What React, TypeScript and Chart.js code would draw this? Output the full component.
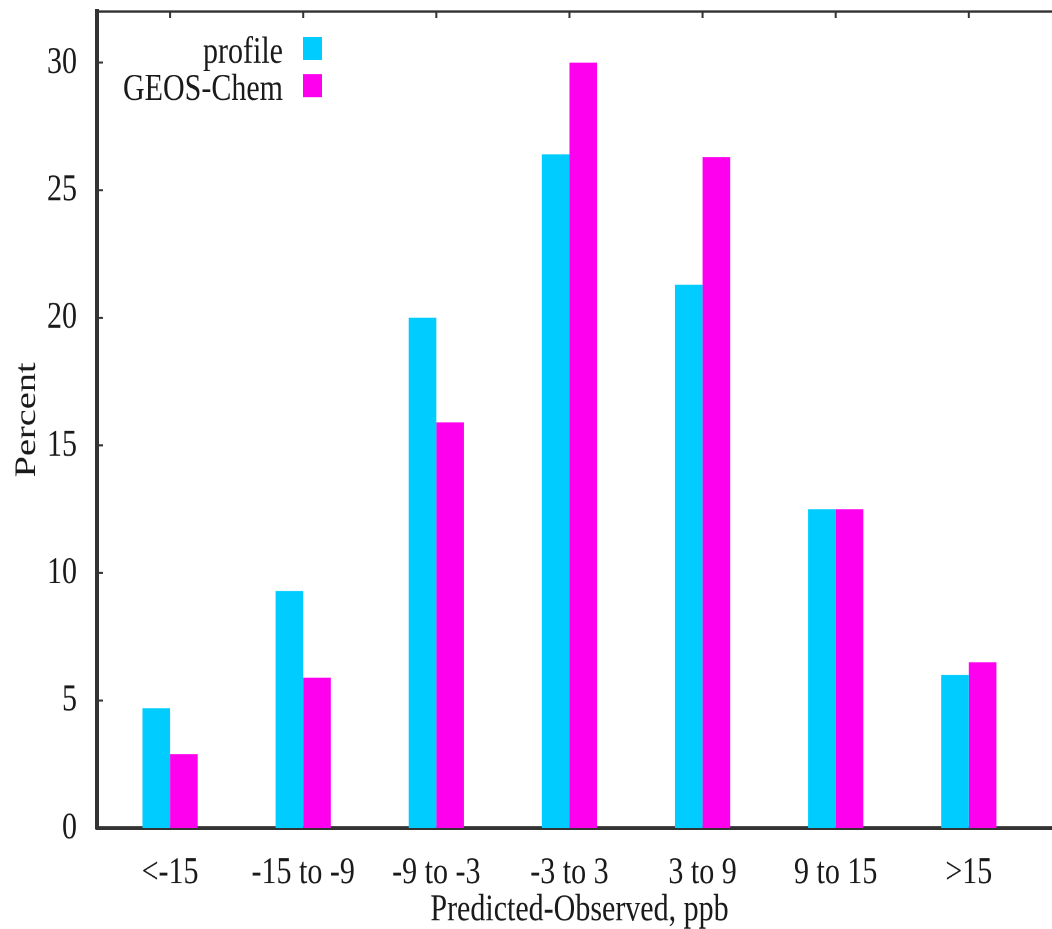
import React, { useEffect, useRef } from "react";
import { Chart, registerables } from "chart.js";

Chart.register(...registerables);

const categories = ["<-15", "-15 to -9", "-9 to -3", "-3 to 3", "3 to 9", "9 to 15", ">15"];
const profileValues = [4.7, 9.3, 20.0, 26.4, 21.3, 12.5, 6.0];
const geosChemValues = [2.9, 5.9, 15.9, 30.0, 26.3, 12.5, 6.5];
const yTickValues = [0, 5, 10, 15, 20, 25, 30];
const seriesLabels = ["profile", "GEOS-Chem"];
const seriesColors = ["#00ccff", "#ff00ee"];
const xTitle = "Predicted-Observed, ppb";
const yTitle = "Percent";

const W = 1075;
const H = 726;
const STRETCH = 1.28;
const FONT = "'Liberation Serif', 'Times New Roman', serif";
const TEXT = "#1a1a1a";
const AXIS = "#333333";

const framePlugin = {
  id: "framePlugin",
  afterDraw(chart: any) {
    const { ctx, chartArea, scales } = chart;
    const { left, right, top } = chartArea;
    ctx.save();
    ctx.strokeStyle = AXIS;
    // top border
    ctx.lineWidth = 1.8;
    ctx.beginPath();
    ctx.moveTo(left, top);
    ctx.lineTo(right + 20, top);
    ctx.stroke();
    // top ticks (inward) at category centres
    ctx.lineWidth = 2;
    categories.forEach((_, i) => {
      const x = scales.x.getPixelForValue(i);
      ctx.beginPath();
      ctx.moveTo(x, top);
      ctx.lineTo(x, top + 5);
      ctx.stroke();
    });
    // left ticks (inward)
    ctx.lineWidth = 1.6;
    yTickValues.forEach((v) => {
      if (v === 0) return;
      const y = scales.y.getPixelForValue(v);
      ctx.beginPath();
      ctx.moveTo(left, y);
      ctx.lineTo(left + 6, y);
      ctx.stroke();
    });
    // legend (text right-aligned, box on the right)
    ctx.font = `30px ${FONT}`;
    ctx.textAlign = "right";
    ctx.textBaseline = "alphabetic";
    const baselines = [49, 78];
    chart.data.datasets.forEach((ds: any, i: number) => {
      ctx.fillStyle = TEXT;
      ctx.fillText(ds.label, 283, baselines[i]);
      ctx.fillStyle = ds.backgroundColor;
      ctx.fillRect(303, baselines[i] - 20, 19, 18);
    });
    ctx.restore();
  },
};

export default function App() {
  const canvasRef = useRef<HTMLCanvasElement | null>(null);

  useEffect(() => {
    if (!canvasRef.current) return;
    const chart = new Chart(canvasRef.current, {
      type: "bar",
      data: {
        datasets: [
          {
            label: seriesLabels[0],
            data: profileValues.map((y, i) => ({ x: i, y })),
            backgroundColor: seriesColors[0],
            borderWidth: 0,
            categoryPercentage: 0.415,
            barPercentage: 1.0,
          },
          {
            label: seriesLabels[1],
            data: geosChemValues.map((y, i) => ({ x: i, y })),
            backgroundColor: seriesColors[1],
            borderWidth: 0,
            categoryPercentage: 0.415,
            barPercentage: 1.0,
          },
        ],
      },
      options: {
        responsive: false,
        animation: false,
        devicePixelRatio: 2,
        layout: { padding: { top: 9, right: 13, left: 0, bottom: 0 } },
        plugins: {
          legend: { display: false },
          tooltip: { enabled: false },
          title: { display: false },
        },
        scales: {
          x: {
            type: "linear",
            offset: false,
            min: -0.549,
            max: 6.7,
            z: 1,
            grid: { display: false, drawTicks: false, offset: false },
            border: { display: true, width: 3, color: AXIS },
            afterBuildTicks: (scale: any) => {
              scale.ticks = categories.map((_, i) => ({ value: i }));
            },
            afterFit: (scale: any) => {
              scale.height = 79;
              scale.paddingLeft = 0;
              scale.paddingRight = 0;
            },
            ticks: {
              autoSkip: false,
              maxRotation: 0,
              padding: 20,
              color: TEXT,
              font: { family: FONT, size: 30, lineHeight: 1 },
              callback: (v: any) => categories[v as number] ?? "",
            },
            title: {
              display: true,
              text: xTitle,
              color: TEXT,
              padding: { top: 0, bottom: 0 },
              font: { family: FONT, size: 30, lineHeight: 1 },
            },
          },
          y: {
            type: "linear",
            min: 0,
            max: 32,
            z: 1,
            grid: { display: false, drawTicks: false },
            border: { display: true, width: 4, color: AXIS },
            afterBuildTicks: (scale: any) => {
              scale.ticks = yTickValues.map((v) => ({ value: v }));
            },
            afterFit: (scale: any) => {
              scale.width = 97;
              scale.paddingTop = 0;
              scale.paddingBottom = 0;
            },
            ticks: {
              padding: 20,
              color: TEXT,
              font: { family: FONT, size: 30, lineHeight: 1 },
            },
            title: {
              display: true,
              text: yTitle,
              color: TEXT,
              padding: { top: 12, bottom: 0 },
              font: { family: FONT, size: 30, lineHeight: 1 },
            },
          },
        },
      },
      plugins: [framePlugin],
    } as any);
    return () => chart.destroy();
  }, []);

  return (
    <div
      style={{
        position: "fixed",
        left: 0,
        top: 0,
        width: 1052,
        height: 929,
        overflow: "hidden",
        background: "#ffffff",
      }}
    >
      <div style={{ transform: `scaleY(${STRETCH})`, transformOrigin: "0 0", width: W, height: H }}>
        <canvas
          ref={canvasRef}
          width={W}
          height={H}
          style={{ width: `${W}px`, height: `${H}px`, display: "block" }}
        />
      </div>
    </div>
  );
}
